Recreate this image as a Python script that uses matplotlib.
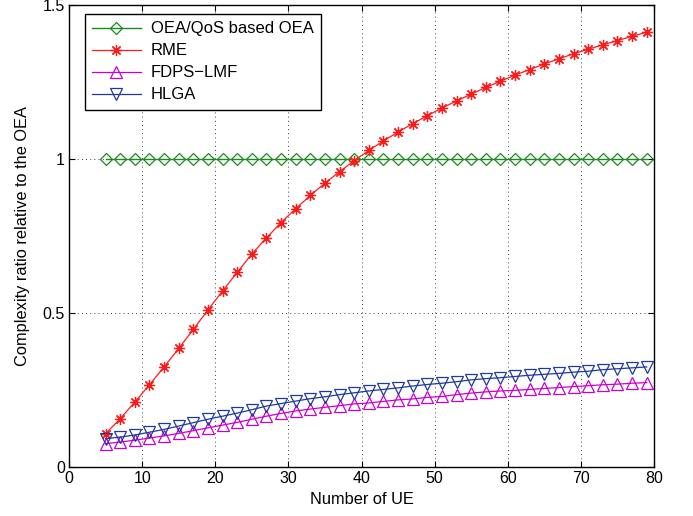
import numpy as np
import matplotlib
matplotlib.use('Agg')
import matplotlib.pyplot as plt

plt.rcParams['font.family'] = ['Liberation Sans', 'DejaVu Sans']

# number of UE
ue = list(range(5, 80, 2))

oea = [1.0] * len(ue)
rme = [0.108, 0.157, 0.211, 0.267, 0.325, 0.385, 0.447, 0.510, 0.572, 0.632,
       0.692, 0.744, 0.794, 0.839, 0.882, 0.922, 0.959, 0.995, 1.028, 1.059,
       1.088, 1.115, 1.141, 1.166, 1.189, 1.211, 1.233, 1.253, 1.273, 1.291,
       1.309, 1.326, 1.342, 1.357, 1.371, 1.385, 1.399, 1.412]
fdps = [0.076, 0.081, 0.087, 0.094, 0.101, 0.109, 0.118, 0.127, 0.136, 0.145,
        0.155, 0.165, 0.174, 0.182, 0.188, 0.194, 0.199, 0.205, 0.208, 0.213,
        0.218, 0.221, 0.226, 0.229, 0.235, 0.240, 0.244, 0.247, 0.249, 0.252,
        0.255, 0.258, 0.261, 0.264, 0.267, 0.269, 0.272, 0.274]
hlga = [0.092, 0.097, 0.104, 0.113, 0.122, 0.133, 0.144, 0.155, 0.165, 0.175,
        0.186, 0.198, 0.206, 0.214, 0.222, 0.228, 0.235, 0.241, 0.247, 0.252,
        0.257, 0.263, 0.268, 0.272, 0.277, 0.283, 0.287, 0.290, 0.294, 0.298,
        0.301, 0.304, 0.308, 0.311, 0.316, 0.319, 0.322, 0.325]

labels = ['OEA/QoS based OEA', 'RME', 'FDPS\u2212LMF', 'HLGA']

fig = plt.figure(figsize=(6.93, 5.16), dpi=100)
ax = fig.add_axes([0.0996, 0.095, 0.8442, 0.895])

ax.plot(ue, oea, color='#1c8a1c', lw=1.0, marker='D', markersize=6.5,
        markerfacecolor='none', markeredgewidth=0.9, label=labels[0])
ax.plot(ue, rme, color='#ff1a1a', lw=0.9, marker=(8, 2, 0), markersize=8,
        markeredgewidth=0.9, label=labels[1])
ax.plot(ue, fdps, color='#cc00cc', lw=0.9, marker='^', markersize=8,
        markerfacecolor='none', markeredgewidth=0.9, label=labels[2])
ax.plot(ue, hlga, color='#1f3a9a', lw=0.9, marker='v', markersize=8,
        markerfacecolor='none', markeredgewidth=0.9, label=labels[3])

ax.set_xlim(0, 80)
ax.set_ylim(0, 1.5)
ax.set_xticks(range(0, 81, 10))
ax.set_yticks([0, 0.5, 1, 1.5])
ax.set_yticklabels(['0', '0.5', '1', '1.5'])
ax.tick_params(direction='in', top=True, right=True, labelsize=11.5, length=4, pad=3)
ax.grid(True, color='black', linestyle=(0, (1, 4)), linewidth=0.6)
for s in ax.spines.values():
    s.set_linewidth(1.0)

ax.set_xlabel('Number of UE', fontsize=11.8, labelpad=4)
ax.set_ylabel('Complexity ratio relative to the OEA', fontsize=11.8, labelpad=9)

leg = ax.legend(loc='upper left', bbox_to_anchor=(0.027, 0.981), fontsize=12,
                numpoints=1, handlelength=2.9, fancybox=False, framealpha=1,
                borderpad=0.45, labelspacing=0.42, handletextpad=0.6,
                borderaxespad=0)
leg.get_frame().set_edgecolor('black')
leg.get_frame().set_linewidth(1.0)

fig.savefig('out.png', dpi=100)
